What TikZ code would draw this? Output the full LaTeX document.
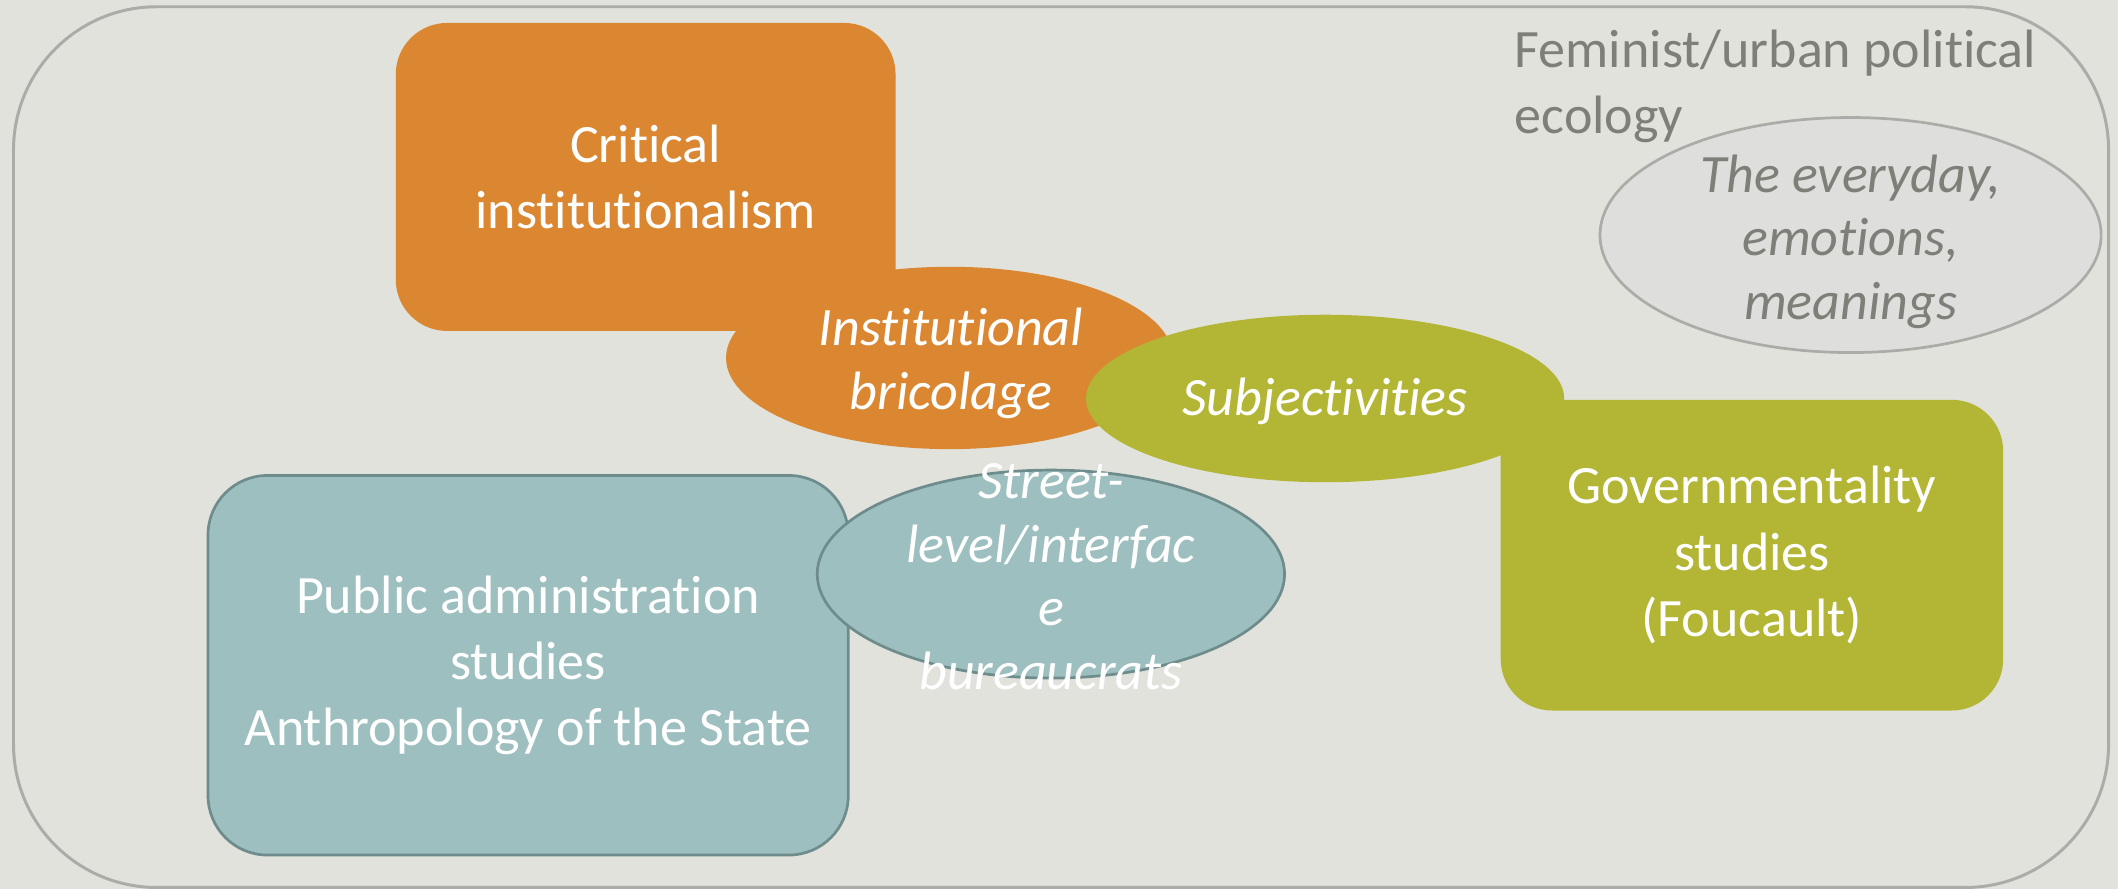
\documentclass[tikz,border=0pt]{standalone}
\usepackage{fontspec}
\setmainfont{Carlito}[Ligatures=NoCommon]
\usetikzlibrary{shapes.geometric}
\definecolor{paper}{HTML}{E1E2DC}
\definecolor{frame}{HTML}{ABACA7}
\definecolor{ochre}{HTML}{DB8731}
\definecolor{olive}{HTML}{B3B535}
\definecolor{sea}{HTML}{9EBFBF}
\definecolor{seaedge}{HTML}{6F8C8C}
\definecolor{ink}{HTML}{7F7F79}
\definecolor{mist}{HTML}{DEDEDC}
\tikzset{box/.style={rectangle, rounded corners=19pt, inner sep=0pt, text=white, align=center, font=\fontsize{20}{24.5}\selectfont},
  blob/.style={ellipse, inner sep=0pt},
  blobtext/.style={text=white, align=center, font=\fontsize{20}{23.5}\selectfont\itshape}}

\begin{document}
\begin{tikzpicture}[x=0.5pt,y=-0.5pt]
                \useasboundingbox[fill=paper] (0,0) rectangle (1568,658);
                \draw[frame, line width=1.1pt, rounded corners=53pt] (10,5) rectangle (1561,657);
                % orange
                \node[box, fill=ochre, minimum width=185pt, minimum height=114pt] (crit) at (478,131) {Critical\\institutionalism};
                \node[blob, fill=ochre, minimum width=165.5pt, minimum height=67.5pt] (bric) at (703,265) {};
                \node[blobtext] (brictext) at (704,269) {Institutional\\bricolage};
                % olive
                \node[box, fill=olive, minimum width=186pt, minimum height=115pt] (gov) at (1297,411) {Governmentality\\studies\\(Foucault)};
                \node[blob, fill=olive, minimum width=177pt, minimum height=62pt] (subj) at (981,295) {};
                \node[blobtext] (subjtext) at (981,297) {Subjectivities};
                % teal
                \node[box, fill=sea, draw=seaedge, line width=1pt, rounded corners=22pt, minimum width=237pt, minimum height=140.5pt] (pub) at (391,492.5) {Public administration\\studies\\Anthropology of the State};
                \node[blob, fill=sea, draw=seaedge, line width=1pt, minimum width=173pt, minimum height=77pt] (street) at (778,425) {};
                \node[blobtext] (streettext) at (778,427) {Street-\\level/interfac\\e\\bureaucrats};
                % grey
                \node[anchor=west, align=left, inner sep=0pt, text=ink, font=\fontsize{20}{24.5}\selectfont] (fem) at (1121,64) {Feminist/urban political\\ecology};
                \node[blob, fill=mist, draw=frame, line width=1pt, minimum width=185.5pt, minimum height=87pt] (every) at (1370,174) {};
                \node[blobtext, text=ink] (everytext) at (1370,179) {The everyday,\\emotions,\\meanings};
\end{tikzpicture}
\end{document}
